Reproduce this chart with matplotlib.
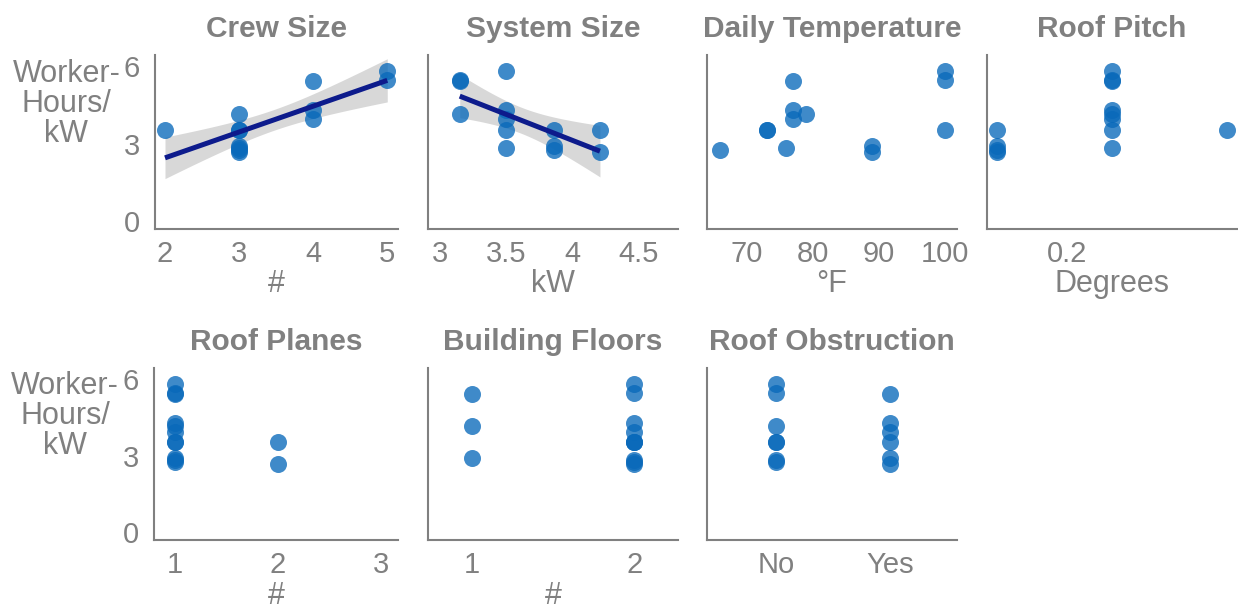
import numpy as np
import matplotlib
matplotlib.use("Agg")
import matplotlib.pyplot as plt

plt.rcParams["font.family"] = ["Liberation Sans", "DejaVu Sans"]

# Installation records: worker-hours per kW and site attributes
worker_hours_per_kw = [5.81, 5.47, 5.43, 4.29, 4.16, 3.94, 3.52, 3.52, 3.52, 2.92, 2.82, 2.77, 2.69]
crew_size = [5, 5, 4, 4, 3, 4, 2, 3, 3, 3, 3, 3, 3]
system_size_kw = [3.50, 3.15, 3.15, 3.50, 3.15, 3.50, 3.50, 3.86, 4.21, 3.86, 3.50, 3.86, 4.21]
daily_temp_f = [100, 100, 77, 77, 79, 77, 73, 73, 100, 89, 76, 66, 89]
roof_pitch = [0.245, 0.245, 0.245, 0.245, 0.245, 0.245, 0.13, 0.36, 0.245, 0.13, 0.245, 0.13, 0.13]
roof_planes = [1, 1, 1, 1, 1, 1, 1, 2, 1, 1, 1, 1, 2]
building_floors = [2, 2, 1, 2, 1, 2, 2, 2, 2, 1, 2, 2, 2]
roof_obstruction = ["No", "No", "Yes", "Yes", "No", "Yes", "No", "No", "Yes", "Yes", "No", "No", "Yes"]

obstruction_levels = ["No", "Yes"]

panel_titles = ["Crew Size", "System Size", "Daily Temperature", "Roof Pitch",
                "Roof Planes", "Building Floors", "Roof Obstruction"]
panel_xlabels = ["#", "kW", "\u00b0F", "Degrees", "#", "#", ""]
panel_xticks = [[2, 3, 4, 5], [3, 3.5, 4, 4.5], [70, 80, 90, 100], [0.2],
                [1, 2, 3], [1, 2], [0, 1]]
panel_xticklabels = [["2", "3", "4", "5"], ["3", "3.5", "4", "4.5"],
                     ["70", "80", "90", "100"], ["0.2"], ["1", "2", "3"],
                     ["1", "2"], ["No", "Yes"]]
y_ticks = [0, 3, 6]
y_label = "Worker-\nHours/\nkW"

GREY = "#808080"
POINT = "#0969ba"
LINE = "#0d1b8c"
BAND = "#c8c8c8"
T_CRIT_95_DF11 = 2.201

W, H = 1238, 611
fig = plt.figure(figsize=(W / 100, H / 100), dpi=100)


def add_px_axes(left, top, width, height):
    return fig.add_axes([left / W, 1 - (top + height) / H, width / W, height / H])


layout = [
    (155, 55, 243, 174, (1.865, 5.145)),
    (428, 55, 250, 174, (2.91, 4.80)),
    (707, 55, 250, 174, (64.0, 101.8)),
    (987, 55, 250, 174, (0.12, 0.37)),
    (154, 368, 244, 172, (0.80, 3.16)),
    (428, 368, 250, 172, (0.73, 2.27)),
    (707, 368, 250, 172, (-0.61, 1.59)),
]

obstruction_codes = [obstruction_levels.index(v) for v in roof_obstruction]
x_series = [crew_size, system_size_kw, daily_temp_f, roof_pitch,
            roof_planes, building_floors, obstruction_codes]
y = np.array(worker_hours_per_kw)


def draw_fit(ax, x):
    x = np.asarray(x, dtype=float)
    n = len(x)
    slope, intercept = np.polyfit(x, y, 1)
    grid = np.linspace(x.min(), x.max(), 100)
    fit = intercept + slope * grid
    resid = y - (intercept + slope * x)
    s = np.sqrt(np.sum(resid ** 2) / (n - 2))
    sxx = np.sum((x - x.mean()) ** 2)
    half = T_CRIT_95_DF11 * s * np.sqrt(1 / n + (grid - x.mean()) ** 2 / sxx)
    ax.fill_between(grid, fit - half, fit + half, color=BAND, alpha=0.7,
                    linewidth=0, zorder=1)
    ax.plot(grid, fit, color=LINE, linewidth=3.6, zorder=3, solid_capstyle="butt")


for i, (left, top, width, height, xlim) in enumerate(layout):
    ax = add_px_axes(left, top, width, height)
    ax.scatter(x_series[i], y, s=150, color=POINT, alpha=0.78, linewidths=0, zorder=2)
    if i in (0, 1):
        draw_fit(ax, x_series[i])
    ax.set_xlim(*xlim)
    ax.set_ylim(-0.3, 6.43)
    ax.set_xticks(panel_xticks[i])
    ax.set_xticklabels(panel_xticklabels[i])
    ax.set_yticks(y_ticks)
    for side in ("top", "right"):
        ax.spines[side].set_visible(False)
    for side in ("left", "bottom"):
        ax.spines[side].set_color(GREY)
        ax.spines[side].set_linewidth(1.5)
    ax.tick_params(axis="both", length=0, labelsize=21, labelcolor=GREY)
    ax.tick_params(axis="x", pad=8)
    ax.tick_params(axis="y", pad=11)
    if i in (0, 4):
        ax.set_ylabel(y_label, rotation=0, fontsize=22, color=GREY,
                      ha="center", va="center", linespacing=1.0)
        ax.yaxis.set_label_coords(-0.365, 0.72)
    else:
        ax.set_yticklabels([])
    if panel_xlabels[i]:
        ax.set_xlabel(panel_xlabels[i], fontsize=22, color=GREY, labelpad=1)
    ax.set_title(panel_titles[i], fontsize=21.5, fontweight="bold", color=GREY, pad=13)

fig.savefig("out.png", dpi=100)
